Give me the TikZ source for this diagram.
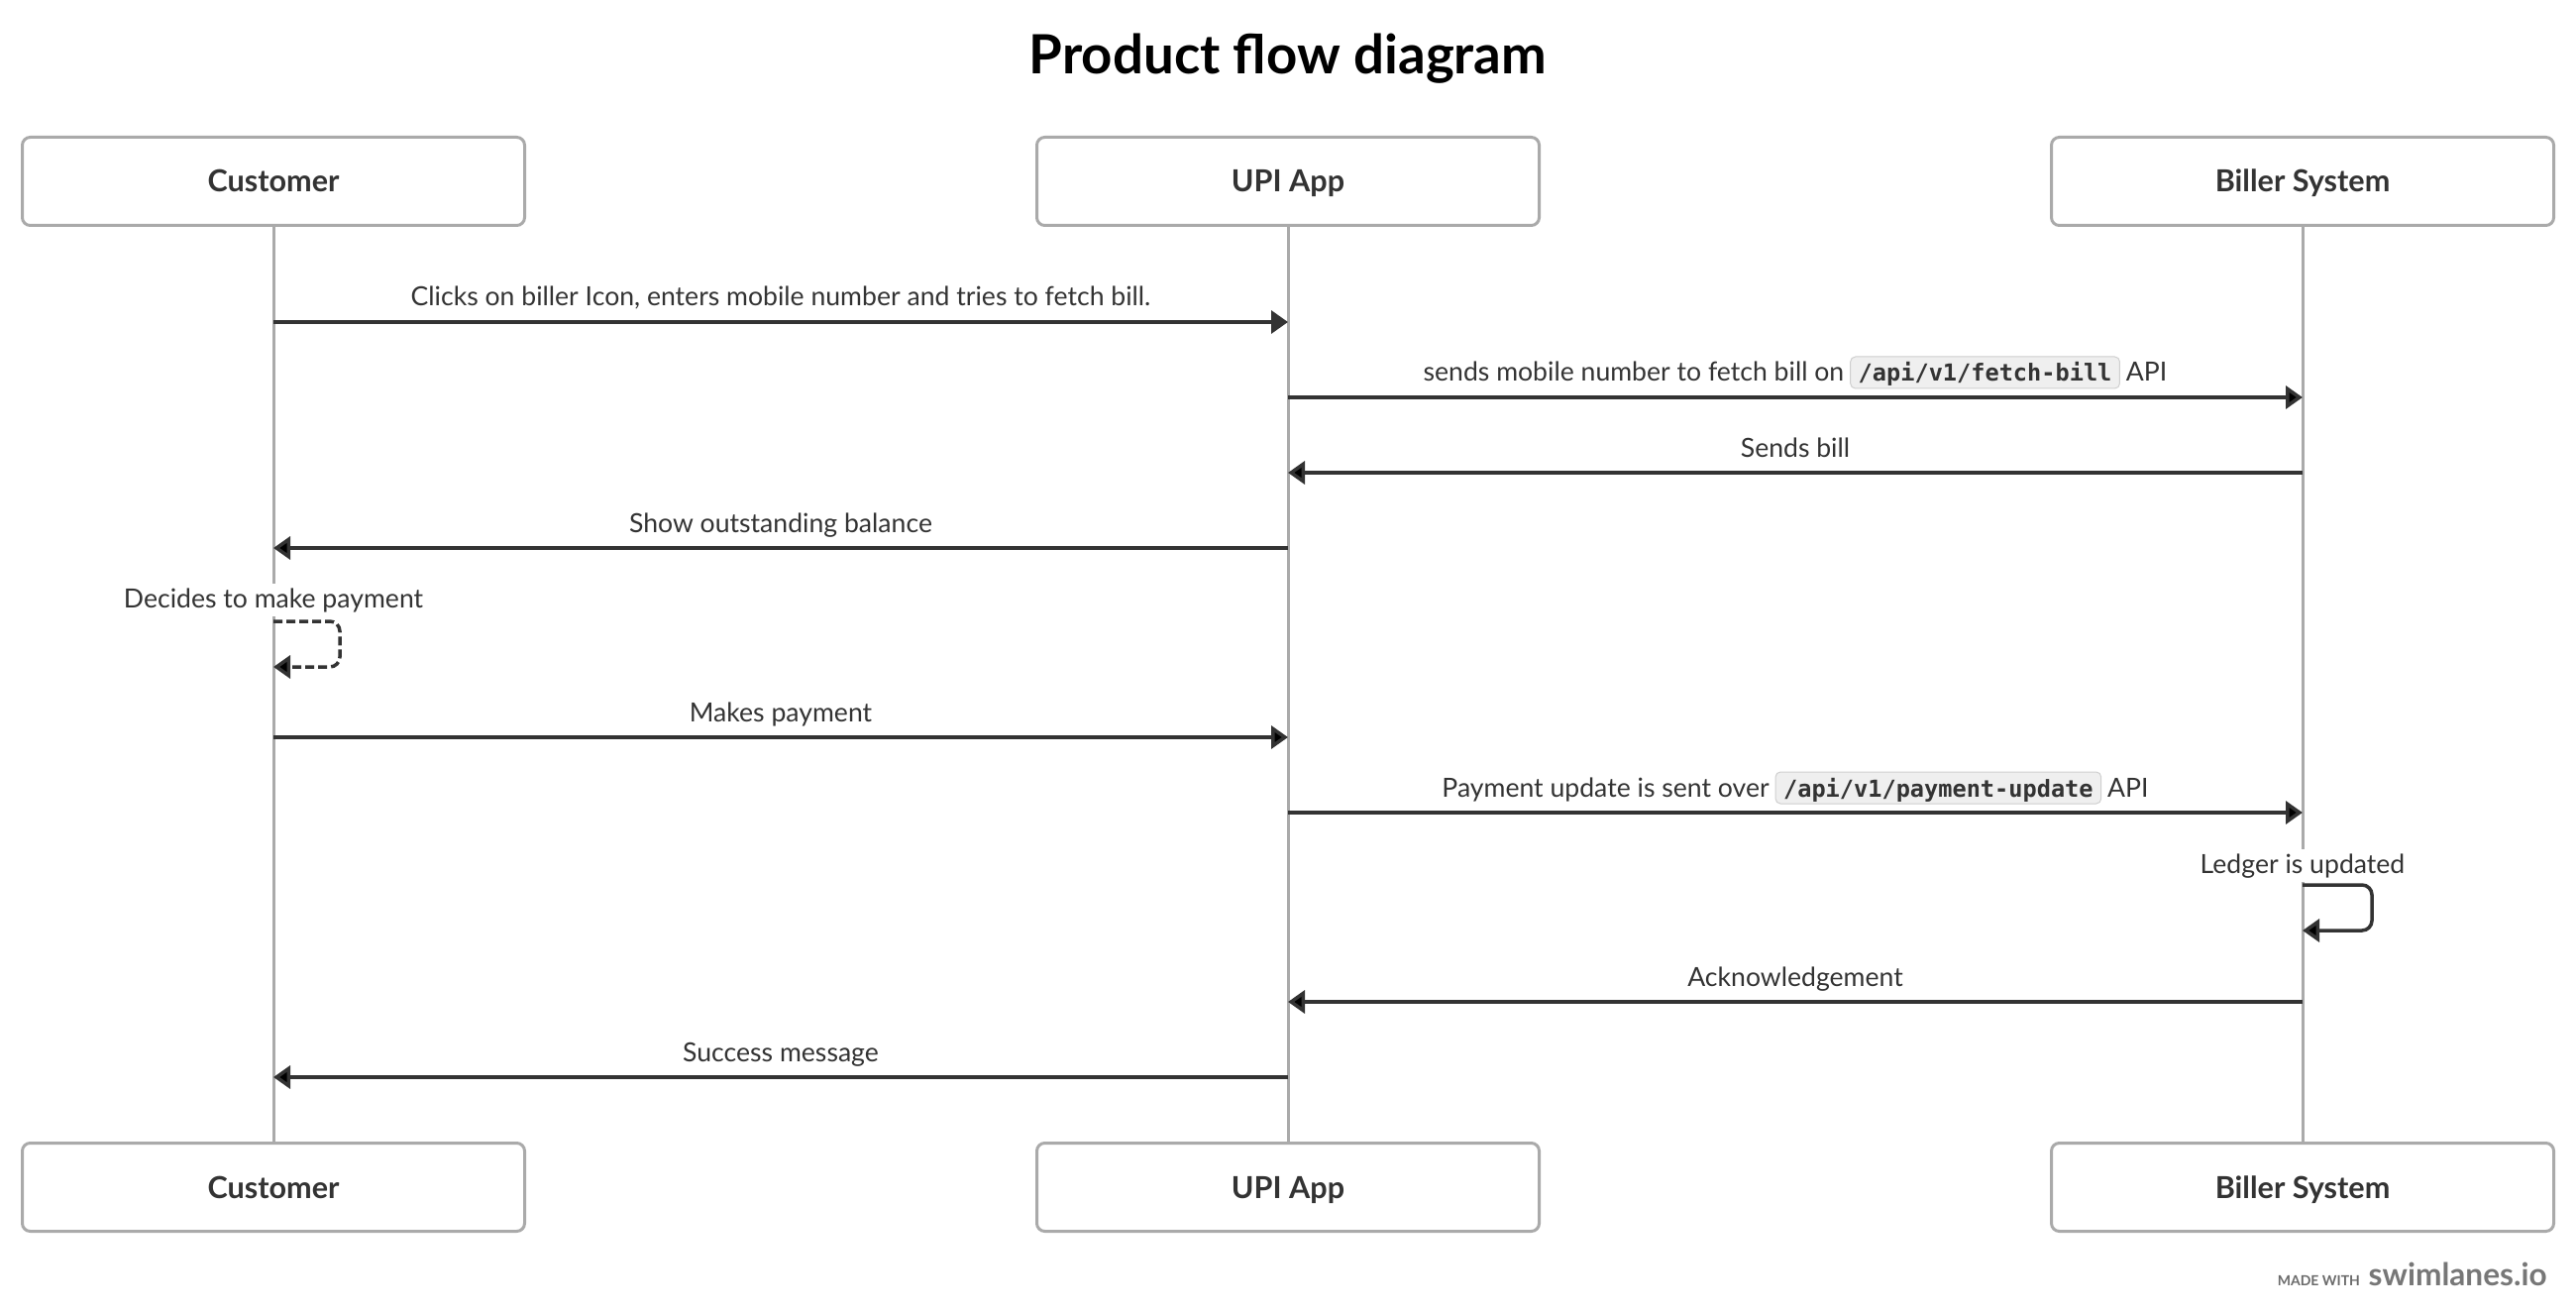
\documentclass[tikz,border=0pt]{standalone}
\usepackage{fontspec}
\setmainfont{Lato}
\setmonofont{DejaVu Sans Mono}
\usepackage{tikz}
\usetikzlibrary{arrows.meta,positioning}
\definecolor{lanegray}{HTML}{AAAAAA}
\definecolor{inkgray}{HTML}{333333}
\definecolor{codefill}{HTML}{EFEFEF}
\definecolor{codeedge}{HTML}{CFCFCF}
\definecolor{brandgray}{HTML}{777777}
\newcommand{\apicode}[1]{\tikz[baseline=0pt]\node[codebox] {#1};}

\begin{document}
\begin{tikzpicture}[x=0.5pt, y=-0.5pt,
	actor/.style={draw=lanegray, line width=1.5pt, rounded corners=4pt, fill=white,
		minimum width=253.5pt, minimum height=44.5pt, text=inkgray,
		font=\fontsize{15.3pt}{18pt}\selectfont\bfseries, text height=11pt, text depth=0pt},
	lifeline/.style={draw=lanegray, line width=1.5pt},
	msg/.style={draw=inkgray, line width=1.75pt, -{Triangle[length=8.5pt,width=11.5pt]}},
	msgtext/.style={text=inkgray, font=\fontsize{13.3pt}{16pt}\selectfont, inner xsep=1pt, inner ysep=2pt},
	above line/.style={msgtext, midway, anchor=base, yshift=8pt},
	codebox/.style={anchor=base, draw=codeedge, fill=codefill, line width=0.5pt, rounded corners=2.5pt,
		inner xsep=4pt, inner ysep=0pt, text height=12.5pt, text depth=3.5pt,
		font=\fontsize{11.8pt}{14pt}\selectfont\ttfamily\bfseries, text=inkgray}]
	\useasboundingbox (0,0) rectangle (2600,1326);

	\node [anchor=base, font=\fontsize{27.3pt}{32pt}\selectfont\bfseries, text=black] (title) at (1300,75) {Product flow diagram};

	% participants, top and bottom
	\node [actor] (cust-top) at (276,183) {Customer};
	\node [actor] (upi-top) at (1300,183) {UPI App};
	\node [actor] (bill-top) at (2324,183) {Biller System};
	\node [actor] (cust-bot) at (276,1198) {Customer};
	\node [actor] (upi-bot) at (1300,1198) {UPI App};
	\node [actor] (bill-bot) at (2324,1198) {Biller System};

	\draw [lifeline] (cust-top) -- (cust-bot);
	\draw [lifeline] (upi-top) -- (upi-bot);
	\draw [lifeline] (bill-top) -- (bill-bot);

	\foreach \row/\y in {1/325,2/401,3/477,4/553,5/627,6/673,7/744,8/820,9/893,10/939,11/1011,12/1087} {
		\coordinate (cust-\row) at (cust-top |- 0,\y);
		\coordinate (upi-\row) at (upi-top |- 0,\y);
		\coordinate (bill-\row) at (bill-top |- 0,\y);
	}

	\draw [msg] (cust-1) -- (upi-1) node [above line] {Clicks on biller Icon, enters mobile number and tries to fetch bill.};
	\draw [msg] (upi-2) -- (bill-2) node [above line] {sends mobile number to fetch bill on\hspace{3pt}\apicode{/api/v1/fetch-bill}\hspace{3pt}API};
	\draw [msg] (bill-3) -- (upi-3) node [above line] {Sends bill};
	\draw [msg] (upi-4) -- (cust-4) node [above line] {Show outstanding balance};

	%self message on the customer lane
	\node [msgtext, fill=white, anchor=base] (decide) at (276,613) {Decides to make payment};
	\draw [msg, dash pattern=on 4.5pt off 2pt, rounded corners=5pt] (cust-5) -- ++(67,0) |- (cust-6);

	\draw [msg] (cust-7) -- (upi-7) node [above line] {Makes payment};
	\draw [msg] (upi-8) -- (bill-8) node [above line] {Payment update is sent over\hspace{3pt}\apicode{/api/v1/payment-update}\hspace{3pt}API};

	\node [msgtext, fill=white, anchor=base] (ledger) at (2324,881) {Ledger is updated};
	\draw [msg, rounded corners=5pt] (bill-9) -- ++(70,0) |- (bill-10);

	\draw [msg] (bill-11) -- (upi-11) node [above line] {Acknowledgement};
	\draw [msg] (upi-12) -- (cust-12) node [above line] {Success message};

	\node [anchor=base east, inner sep=0pt, text=brandgray, font=\fontsize{15.8pt}{18pt}\selectfont\bfseries] (brand) at (2571,1297) {swimlanes.io};
	\node [base left=4pt of brand, inner sep=0pt, text=brandgray!90!black, font=\fontsize{7pt}{8pt}\selectfont\bfseries] (made) {MADE WITH};
\end{tikzpicture}
\end{document}
